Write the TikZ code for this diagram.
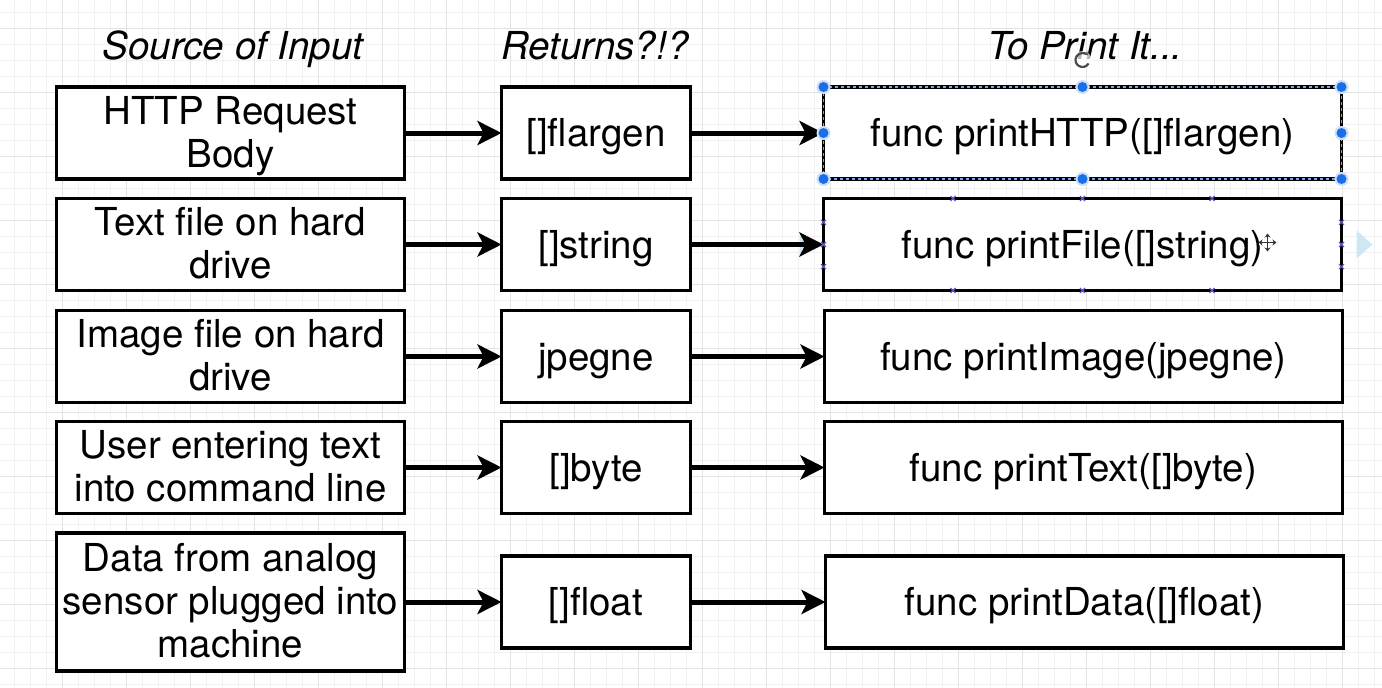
\documentclass[tikz,border=0pt]{standalone}
\usepackage{fontspec}
\setmainfont{TeX Gyre Heros}
\usetikzlibrary{arrows.meta,calc}

\definecolor{gridminor}{HTML}{F1F1F1}
\definecolor{gridmajor}{HTML}{E3E3E3}
\definecolor{selblue}{HTML}{1A6FE8}
\definecolor{ptpurple}{HTML}{6A5ACD}
\definecolor{hoverblue}{HTML}{CFE7F3}

% small connection-point cross
\newcommand\cpmark[1]{\draw[ptpurple, line width=1.1pt] (#1) +(-2.5,-2.5) -- +(2.5,2.5) +(-2.5,2.5) -- +(2.5,-2.5);}
% taller first line for the multi-line source labels
\newcommand\firstln{\rule{0pt}{0.89em}}

\begin{document}
\begin{tikzpicture}[x=1pt,y=-1pt,
  box/.style={draw=black, line width=3.5pt, fill=white, outer sep=0pt,
    inner sep=2pt, align=center, font=\fontsize{38.5}{43}\selectfont,
    % struts so that the capitals sit in the vertical middle of the box
    execute at begin node={\rule{0pt}{0.94em}},
    execute at end node={\rule[-0.22em]{0pt}{0pt}}},
  srcbox/.style={box, minimum width=348pt},
  retbox/.style={box, minimum width=189pt},
  fnbox/.style={box, minimum width=518pt},
  head/.style={anchor=base, font=\fontsize{38.5}{43}\selectfont\itshape},
  conn/.style={line width=5pt, -{Stealth[length=24pt,width=24pt,inset=6pt]}},
  handle/.style={fill=selblue},
]
\useasboundingbox (0,0) rectangle (1382,688);
\fill[white] (0,0) rectangle (1382,688);

% background grid
\foreach \x in {14,30,...,1382} \draw[gridminor, line width=1pt] (\x,0) -- (\x,688);
\foreach \y in {12,28,...,688} \draw[gridminor, line width=1pt] (0,\y) -- (1382,\y);
\foreach \x in {62,126,...,1382} \draw[gridmajor, line width=1pt] (\x,0) -- (\x,688);
\foreach \y in {28,92,...,688} \draw[gridmajor, line width=1pt] (0,\y) -- (1382,\y);

% column headings
\node[head] (h1) at (233,59) {Source of Input};
\node[head] (h2) at (595,59) {Returns?!?};
\node[head] (h3) at (1085,59) {To Print It...};

% sources
\node[srcbox, minimum height=92pt]  (s1) at (230.5,133)   {\firstln HTTP Request\\Body};
\node[srcbox, minimum height=92pt]  (s2) at (230.5,244.5) {\firstln Text file on hard\\drive};
\node[srcbox, minimum height=92pt]  (s3) at (230.5,356.5) {\firstln Image file on hard\\drive};
\node[srcbox, minimum height=92pt]  (s4) at (230.5,467.5) {\firstln User entering text\\into command line};
\node[srcbox, minimum height=138pt] (s5) at (230.5,602)   {\firstln Data from analog\\sensor plugged into\\machine};

% returned types
\node[retbox, minimum height=92pt] (r1) at (596,133)   {[]flargen};
\node[retbox, minimum height=92pt] (r2) at (596,244.5) {[]string};
\node[retbox, minimum height=92pt] (r3) at (596,356.5) {jpegne};
\node[retbox, minimum height=92pt] (r4) at (596,467.5) {[]byte};
\node[retbox, minimum height=92pt] (r5) at (596,602)   {[]float};

% print functions
\node[fnbox, minimum height=92pt] (f1) at (1082.5,133)   {func printHTTP([]flargen)};
\node[fnbox, minimum height=92pt] (f2) at (1082.5,244.5) {func printFile([]string)};
\node[fnbox, minimum height=92pt] (f3) at (1083.5,356.5) {func printImage(jpegne)};
\node[fnbox, minimum height=92pt] (f4) at (1083.5,467.5) {func printText([]byte)};
\node[fnbox, minimum height=92pt] (f5) at (1084.5,602)   {func printData([]float)};

% hover arrows beside the second function box
\fill[hoverblue] ($(f2.east)+(15,-14)$) -- ($(f2.east)+(31,0)$) -- ($(f2.east)+(15,14)$) -- cycle;
\fill[hoverblue] ($(f2.west)+(-24,-13)$) -- ($(f2.west)+(-8,0)$) -- ($(f2.west)+(-24,13)$) -- cycle;

% connectors
\foreach \i in {1,...,5} {
  \draw[conn] (s\i) -- (r\i);
  \draw[conn] (r\i) -- (f\i);
}

% selection outline and handles on the first function box
\draw[selblue!60, line width=1.2pt, dash pattern=on 3pt off 3pt]
  (f1.north west) rectangle (f1.south east);
\foreach \a in {north west,north,north east,east,south east,south,south west,west} {
  \fill[selblue!22] (f1.\a) circle (7pt);
  \fill[handle] (f1.\a) circle (5pt);
}

% rotate handle
\fill[white, opacity=0.7] ($(f1.north)+(0,-27)$) circle (9pt);
\draw[black!70, line width=2.2pt, -{Stealth[length=4pt,width=5pt]}]
  ($(f1.north)+(0,-27)$) ++(30:7) arc (30:320:7);

% connection points on the second function box
\foreach \t in {0.25,0.5,0.75} {
  \cpmark{$(f2.north west)!\t!(f2.north east)$}
  \cpmark{$(f2.south west)!\t!(f2.south east)$}
}
\foreach \t in {0.26,0.5,0.74} {
  \cpmark{$(f2.north west)!\t!(f2.south west)$}
  \cpmark{$(f2.north east)!\t!(f2.south east)$}
}

% move cursor
\coordinate (mc) at ($(f2.center)+(185,-2)$);
\draw[white, line width=4pt] ($(mc)+(-9,0)$) -- ($(mc)+(9,0)$) ($(mc)+(0,-9)$) -- ($(mc)+(0,9)$);
\draw[black!80, line width=1.8pt, {Stealth[length=4pt,width=6pt]}-{Stealth[length=4pt,width=6pt]}]
  ($(mc)+(-9,0)$) -- ($(mc)+(9,0)$);
\draw[black!80, line width=1.8pt, {Stealth[length=4pt,width=6pt]}-{Stealth[length=4pt,width=6pt]}]
  ($(mc)+(0,-9)$) -- ($(mc)+(0,9)$);
\end{tikzpicture}
\end{document}
